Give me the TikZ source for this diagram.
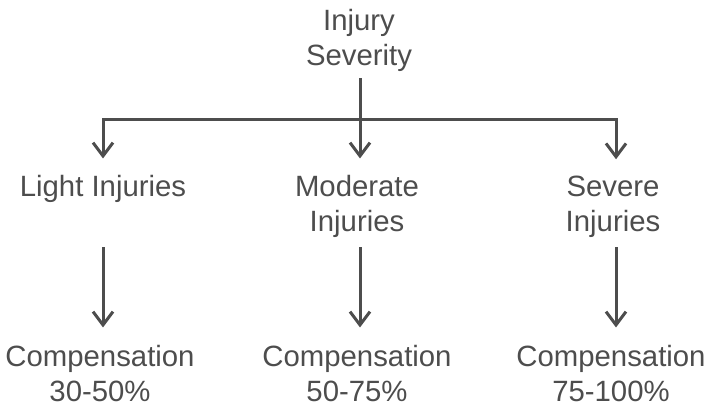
\documentclass[tikz,border=0pt]{standalone}
\usepackage{fontspec}
\setmainfont{Liberation Sans}
\usepackage{xcolor}
\usetikzlibrary{arrows.meta}
\definecolor{ink}{HTML}{4D4D4D}

\begin{document}
\begin{tikzpicture}[x=0.75pt, y=-0.75pt,
    txt/.style={inner sep=0pt, align=center, text=ink, anchor=base,
        font=\fontsize{22}{26.25}\selectfont},
    arr/.style={draw=ink, line width=2.25pt,
        -{Straight Barb[length=10pt, width=15pt]}}]
    \useasboundingbox (0,0) rectangle (707,406);
    % top
    \node[txt] (root) at (359,66) {Injury\\Severity};
    \coordinate (bus) at (360,120);
    \coordinate (busright) at (616,120);
    % middle row
    \node[txt] (light) at (103,197) {Light Injuries};
    \node[txt] (moderate) at (357,232) {Moderate\\Injuries};
    \node[txt] (severe) at (613,232) {Severe\\Injuries};
    % bottom row
    \node[txt] (lightcomp) at (100,401) {Compensation\\30-50\%};
    \node[txt] (moderatecomp) at (357,401) {Compensation\\50-75\%};
    \node[txt] (severecomp) at (611,401) {Compensation\\75-100\%};
    % branches
    \draw[arr, shorten <=4.5pt, shorten >=12.75pt] (root.south -| bus) -- (moderate.north -| bus);
    \draw[arr, shorten >=12.75pt] (bus) -| (light);
    \draw[arr, shorten >=12.75pt] (bus) -- (busright) -- (severe.north -| busright);
    % compensation arrows
    \draw[arr, shorten <=6.75pt, shorten >=12.75pt] (light.south |- moderate.south) -- (light |- lightcomp.north);
    \draw[arr, shorten <=6.75pt, shorten >=12.75pt] (moderate.south -| bus) -- (moderatecomp.north -| bus);
    \draw[arr, shorten <=6.75pt, shorten >=12.75pt] (severe.south -| busright) -- (severecomp.north -| busright);
\end{tikzpicture}
\end{document}
